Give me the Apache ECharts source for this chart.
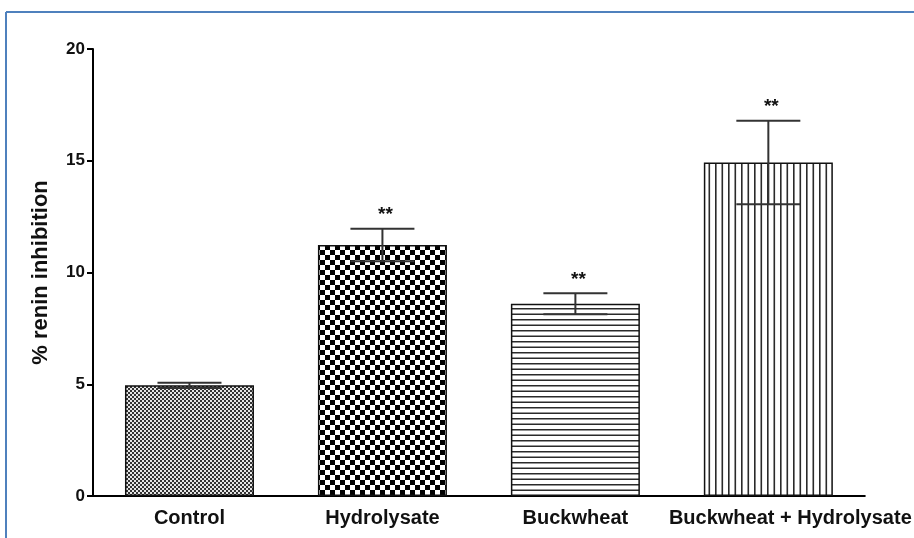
<!DOCTYPE html>
<html>
<head>
<meta charset="utf-8">
<script src="https://cdn.jsdelivr.net/npm/echarts@6/dist/echarts.min.js"></script>
<style>html,body{margin:0;padding:0;background:#fff;}#c{width:914px;height:538px;}</style>
</head>
<body>
<div id="c"></div>
<script>
var categories = ['Control', 'Hydrolysate', 'Buckwheat', 'Buckwheat + Hydrolysate'];
var means = [4.95, 11.23, 8.6, 14.92];
var errors = [0.12, 0.73, 0.47, 1.87];
var significance = ['', '**', '**', '**'];
var yTicks = [0, 5, 10, 15, 20];

function makePattern(kind) {
  var c = document.createElement('canvas');
  var ctx;
  if (kind === 'fine') {
    c.width = 4; c.height = 4; ctx = c.getContext('2d');
    ctx.fillStyle = '#e6e6e6'; ctx.fillRect(0, 0, 4, 4);
    ctx.fillStyle = '#333333';
    ctx.fillRect(0, 0, 2, 2); ctx.fillRect(2, 2, 2, 2);
  } else if (kind === 'checker') {
    c.width = 10; c.height = 10; ctx = c.getContext('2d');
    ctx.fillStyle = '#ffffff'; ctx.fillRect(0, 0, 10, 10);
    ctx.fillStyle = '#000000';
    ctx.fillRect(0, 0, 5, 5); ctx.fillRect(5, 5, 5, 5);
  } else if (kind === 'hlines') {
    c.width = 11; c.height = 11; ctx = c.getContext('2d');
    ctx.fillStyle = '#ffffff'; ctx.fillRect(0, 0, 11, 11);
    ctx.fillStyle = '#2a2a2a';
    ctx.fillRect(0, 0, 11, 1.5); ctx.fillRect(0, 5.5, 11, 1.5);
  } else {
    c.width = 13; c.height = 13; ctx = c.getContext('2d');
    ctx.fillStyle = '#ffffff'; ctx.fillRect(0, 0, 13, 13);
    ctx.fillStyle = '#2a2a2a';
    ctx.fillRect(0, 0, 1.6, 13); ctx.fillRect(6.5, 0, 1.6, 13);
  }
  return { image: c, repeat: 'repeat' };
}
var patternKinds = ['fine', 'checker', 'hlines', 'vlines'];

var barData = means.map(function (v, i) {
  return { value: v, itemStyle: { color: makePattern(patternKinds[i]), borderColor: '#111', borderWidth: 1.5 } };
});
var errData = means.map(function (v, i) { return [i, v, errors[i], significance[i]]; });

var font = '"Liberation Sans", Arial, Helvetica, sans-serif';
var chart = echarts.init(document.getElementById('c'), null, { renderer: 'canvas' });
chart.setOption({
  animation: false,
  backgroundColor: '#ffffff',
  graphic: [
    { type: 'line', shape: { x1: 6, y1: 12, x2: 914, y2: 12 }, style: { stroke: '#4f81bd', lineWidth: 2 } },
    { type: 'line', shape: { x1: 6, y1: 12, x2: 6, y2: 538 }, style: { stroke: '#4f81bd', lineWidth: 2 } }
  ],
  grid: { left: 93, right: 43, top: 49, bottom: 42, containLabel: false },
  xAxis: {
    type: 'category',
    data: categories,
    axisLine: { lineStyle: { color: '#000', width: 2 } },
    axisTick: { alignWithLabel: true, length: 7, lineStyle: { color: '#000', width: 2 } },
    axisLabel: {
      interval: 0, margin: 12, color: '#111', fontFamily: font, fontWeight: 'bold', fontSize: 20,
      formatter: function (v, i) { return i === 3 ? '{s|' + v + '}' : v; },
      rich: { s: { fontFamily: font, fontWeight: 'bold', fontSize: 20, color: '#111', padding: [0, 0, 0, 44] } }
    }
  },
  yAxis: {
    type: 'value',
    min: yTicks[0], max: yTicks[yTicks.length - 1], interval: 5,
    name: '% renin inhibition',
    nameLocation: 'middle', nameRotate: 90, nameGap: 41,
    nameTextStyle: { color: '#111', fontFamily: font, fontWeight: 'bold', fontSize: 22 },
    axisLine: { show: true, lineStyle: { color: '#000', width: 2 } },
    axisTick: { show: true, length: 6, lineStyle: { color: '#000', width: 2 } },
    axisLabel: { margin: 8, color: '#111', fontFamily: font, fontWeight: 'bold', fontSize: 17 },
    splitLine: { show: false }
  },
  series: [
    { type: 'bar', data: barData, barWidth: 129, z: 2 },
    {
      type: 'custom', z: 3,
      data: errData,
      renderItem: function (params, api) {
        var i = api.value(0), m = api.value(1), e = api.value(2);
        var star = errData[params.dataIndex][3];
        var top = api.coord([i, m + e]);
        var bot = api.coord([i, m - e]);
        var hw = 32;
        var style = { stroke: '#333', lineWidth: 2 };
        var children = [
          { type: 'line', shape: { x1: top[0], y1: top[1], x2: bot[0], y2: bot[1] }, style: style },
          { type: 'line', shape: { x1: top[0] - hw, y1: top[1], x2: top[0] + hw, y2: top[1] }, style: style },
          { type: 'line', shape: { x1: bot[0] - hw, y1: bot[1], x2: bot[0] + hw, y2: bot[1] }, style: style }
        ];
        if (star) {
          children.push({ type: 'text', style: { text: star, x: top[0] + 3, y: top[1] - 14, align: 'center', verticalAlign: 'middle', fill: '#111', font: 'bold 19px ' + font } });
        }
        return { type: 'group', children: children };
      }
    }
  ]
});
</script>
</body>
</html>
